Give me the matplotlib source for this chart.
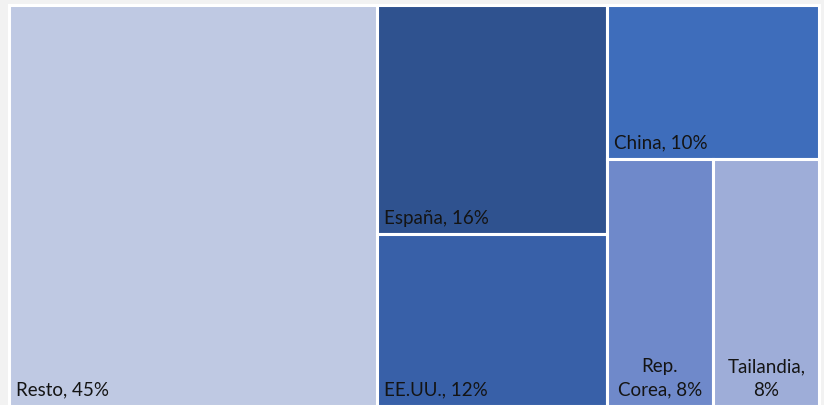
import matplotlib
matplotlib.use("Agg")
import matplotlib.pyplot as plt
from matplotlib.patches import Rectangle

# Share of total, by country
names = ["Resto", "España", "EE.UU.", "China", "Rep. Corea", "Tailandia"]
shares = [45, 16, 12, 10, 8, 8]
colors = ["#bfc9e3", "#2f528f", "#3860a8", "#3e6dbb", "#6f89ca", "#9eadd8"]

W, H = 824, 405
fig = plt.figure(figsize=(W / 100, H / 100), dpi=100)
fig.patch.set_facecolor("#f2f2f2")

# white chart area behind the treemap
fig.add_artist(Rectangle((8 / W, 0), 812 / W, 401 / H, transform=fig.transFigure,
                         facecolor="white", edgecolor="none", zorder=-5))

# treemap axes (outer boundary centres of the tile borders)
left, right, top, bottom = 8.5, 819.5, 4.5, 405.5
ax = fig.add_axes([left / W, (H - bottom) / H, (right - left) / W, (bottom - top) / H])
ax.set_xlim(0, 1)
ax.set_ylim(0, 1)
ax.axis("off")

total = sum(shares)
resto, esp, usa, chn, kor, tha = shares

# column layout: Resto | España / EE.UU. | China / (Corea | Tailandia)
w0 = resto / total
w1 = (esp + usa) / total
w2 = (chn + kor + tha) / total
x1 = w0
x2 = w0 + w1
h_esp = esp / (esp + usa)
h_chn = chn / (chn + kor + tha)
w_kor = w2 * kor / (kor + tha)

rects = [
    (0, 0, w0, 1),
    (x1, 1 - h_esp, w1, h_esp),
    (x1, 0, w1, 1 - h_esp),
    (x2, 1 - h_chn, w2, h_chn),
    (x2, 0, w_kor, 1 - h_chn),
    (x2 + w_kor, 0, w2 - w_kor, 1 - h_chn),
]

for (x, y, w, h), c in zip(rects, colors):
    ax.add_patch(Rectangle((x, y), w, h, facecolor=c, edgecolor="white",
                           linewidth=2.2, clip_on=False))

font = dict(family=["Lato", "DejaVu Sans"], fontsize=13.5, color="#141414")
px = 1 / (right - left)
py = 1 / (bottom - top)

# bottom-left labels
for i in range(4):
    x, y, w, h = rects[i]
    ax.text(x + 7 * px, y + 7 * py, f"{names[i]}, {shares[i]}%",
            ha="left", va="bottom", **font)

# centred two-line labels for the narrow tiles
for i, txt in [(4, f"Rep.\nCorea, {kor}%"), (5, f"Tailandia,\n{tha}%")]:
    x, y, w, h = rects[i]
    ax.text(x + w / 2, y + 7 * py, txt, ha="center", va="bottom",
            linespacing=1.45, multialignment="center", **font)

fig.savefig("out.png", dpi=100, facecolor=fig.get_facecolor())
